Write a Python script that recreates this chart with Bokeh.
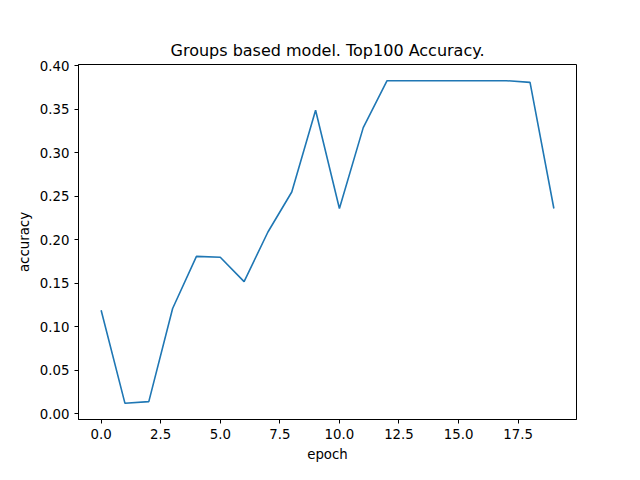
from bokeh.plotting import figure
from bokeh.embed import file_html
from bokeh.resources import INLINE
from bokeh.models import FixedTicker, NumeralTickFormatter, Range1d

epochs = list(range(20))
accuracy = [0.119, 0.012, 0.014, 0.121, 0.181, 0.180, 0.152, 0.209, 0.255, 0.349,
            0.236, 0.329, 0.383, 0.383, 0.383, 0.383, 0.383, 0.383, 0.381, 0.236]
x_ticks = [0, 2.5, 5, 7.5, 10, 12.5, 15, 17.5]
y_ticks = [0.0, 0.05, 0.1, 0.15, 0.2, 0.25, 0.3, 0.35, 0.4]

p = figure(width=624, height=464, output_backend="svg", toolbar_location=None,
           title="Groups based model. Top100 Accuracy.",
           x_range=Range1d(-0.95, 19.95), y_range=Range1d(-0.0066, 0.4016),
           min_border_left=78, min_border_right=48, min_border_top=64, min_border_bottom=40)
p.title.align = "center"
p.title.text_font = "DejaVu Sans"
p.title.text_font_style = "normal"
p.title.text_font_size = "12pt"
p.title.text_color = "black"
p.line(epochs, accuracy, line_color="#1f77b4", line_width=1.6)
p.xgrid.visible = False
p.ygrid.visible = False
p.outline_line_color = "black"
p.xaxis.ticker = FixedTicker(ticks=x_ticks)
p.yaxis.ticker = FixedTicker(ticks=y_ticks)
p.xaxis.formatter = NumeralTickFormatter(format="0.0")
p.yaxis.formatter = NumeralTickFormatter(format="0.00")
p.xaxis.axis_label = "epoch"
p.yaxis.axis_label = "accuracy"
for ax in (p.xaxis, p.yaxis):
    ax.minor_tick_line_color = None
    ax.major_label_text_font = "DejaVu Sans"
    ax.major_label_text_font_size = "10pt"
    ax.major_label_text_color = "black"
    ax.axis_label_text_font = "DejaVu Sans"
    ax.axis_label_text_font_style = "normal"
    ax.axis_label_text_font_size = "10pt"
    ax.axis_label_text_color = "black"
    ax.axis_line_color = "black"
    ax.major_tick_line_color = "black"
    ax.major_tick_out = 4
    ax.major_tick_in = 0

open("out.html", "w").write(file_html(p, INLINE))
